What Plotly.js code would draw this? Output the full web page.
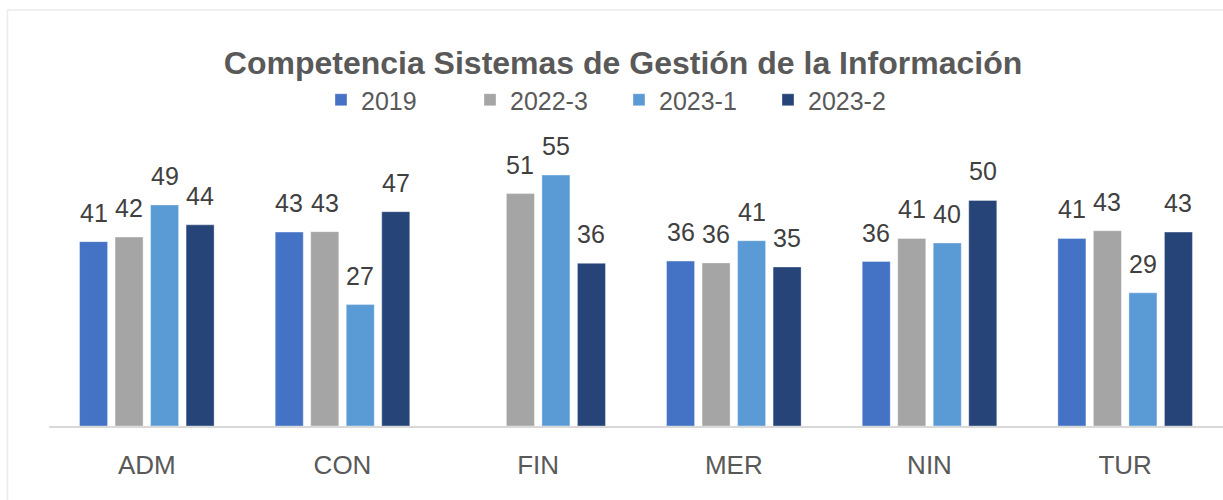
<!DOCTYPE html>
<html>
<head>
<meta charset="utf-8">
<script src="https://cdn.plot.ly/plotly-3.0.1.min.js"></script>
<style>html,body{margin:0;padding:0;background:#fff;}#chart{width:1223px;height:500px;}</style>
</head>
<body>
<div id="chart"></div>
<script>
// ---- data ----
var categories = ['ADM', 'CON', 'FIN', 'MER', 'NIN', 'TUR'];
var seriesNames = ['2019', '2022-3', '2023-1', '2023-2'];
var v2019  = [40.7, 42.8, null, 36.4, 36.3, 41.4];
var v2022_3 = [41.7, 42.9, 51.3, 36.0, 41.4, 43.1];
var v2023_1 = [48.8, 26.8, 55.4, 40.9, 40.4, 29.4];
var v2023_2 = [44.4, 47.3, 35.9, 35.1, 49.8, 42.8];

var seriesValues = [v2019, v2022_3, v2023_1, v2023_2];
var colors = ['#4472C4', '#A5A5A5', '#5B9BD5', '#264478'];

// ---- layout geometry ----
var W = 1223, H = 500;
var mL = 49, mR = 0, mT = 140, mB = 74;
var bargap = 0.274, bargroupgap = 0.211;
var plotW = W - mL - mR;
var catW = plotW / categories.length;
var slotW = catW * (1 - bargap) / seriesNames.length;

var traces = seriesNames.map(function (name, i) {
  return {
    type: 'bar',
    name: name,
    x: categories,
    y: seriesValues[i],
    marker: { color: colors[i], line: { color: 'rgba(255,255,255,0.35)', width: 1 } },
    hoverinfo: 'x+y+name'
  };
});

var annotations = [];
seriesValues.forEach(function (vals, i) {
  vals.forEach(function (v, j) {
    if (v === null || v === undefined) return;
    annotations.push({
      x: categories[j], y: v, xref: 'x', yref: 'y',
      text: String(Math.round(v)),
      showarrow: false,
      xanchor: 'center', yanchor: 'bottom',
      xshift: (i - (seriesNames.length - 1) / 2) * slotW,
      yshift: 13,
      font: { family: 'Liberation Sans, Arial, sans-serif', size: 25, color: '#404040' }
    });
  });
});

var layout = {
  width: W, height: H,
  margin: { l: mL, r: mR, t: mT, b: mB, pad: 0 },
  paper_bgcolor: '#ffffff',
  plot_bgcolor: '#ffffff',
  barmode: 'group',
  bargap: bargap,
  bargroupgap: bargroupgap,
  title: {
    text: '<b>Competencia Sistemas de Gestión de la Información</b>',
    font: { family: 'Liberation Sans, Arial, sans-serif', size: 32, color: '#595959' },
    x: (623 - mL) / plotW, xanchor: 'center', xref: 'paper',
    y: 1 - 63 / H, yanchor: 'middle'
  },
  showlegend: true,
  legend: {
    orientation: 'h',
    x: 0.4855, xanchor: 'center',
    y: (426 - 100) / 286, yanchor: 'middle',
    font: { family: 'Liberation Sans, Arial, sans-serif', size: 25, color: '#595959' },
    bgcolor: 'rgba(0,0,0,0)',
    traceorder: 'normal',
    entrywidth: 104, entrywidthmode: 'pixels'
  },
  xaxis: {
    type: 'category',
    showline: true, linecolor: '#D9D9D9', linewidth: 1.5,
    showgrid: false, zeroline: false,
    ticks: '',
    ticklabelstandoff: 15,
    tickfont: { family: 'Liberation Sans, Arial, sans-serif', size: 26, color: '#595959' },
    fixedrange: true
  },
  yaxis: {
    visible: false,
    range: [0, 286 / 4.53],
    showgrid: false, zeroline: false,
    fixedrange: true
  },
  annotations: annotations,
  shapes: [{
    type: 'rect', xref: 'paper', yref: 'paper',
    x0: (7.5 - mL) / plotW, x1: 1.05,
    y0: -0.4, y1: (426 - 10) / 286,
    line: { color: '#EBEBEB', width: 1.5 },
    fillcolor: 'rgba(0,0,0,0)',
    layer: 'below'
  }]
};

Plotly.newPlot('chart', traces, layout, { displayModeBar: false, staticPlot: true });
</script>
</body>
</html>
